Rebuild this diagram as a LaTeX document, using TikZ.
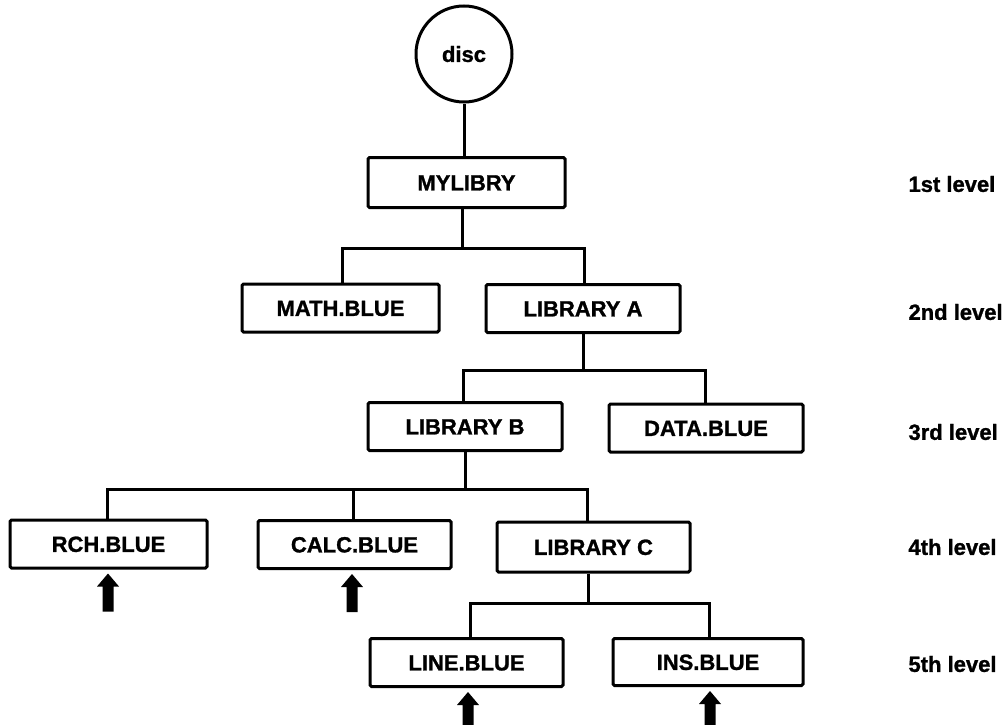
\documentclass[tikz,border=0pt]{standalone}
\usepackage{fontspec}
\setmainfont{Liberation Sans}[BoldFeatures={FakeBold=1.2}]
\begin{document}
\begin{tikzpicture}[x=1pt,y=-1pt,
  line width=3pt,
  every node/.style={font=\fontsize{22}{24}\bfseries\selectfont},
  libbox/.style={draw,rounded corners=1.5pt,inner sep=0pt,minimum height=48,text height=15.8pt,text depth=0pt},
  lvl/.style={anchor=west,inner sep=0pt},
  pics/uparr/.style={code={
    \fill (0,0) -- (11,13) -- (5.5,13) -- (5.5,38) -- (-5.5,38) -- (-5.5,13) -- (-11,13) -- cycle;}}
]
\useasboundingbox (0,0) rectangle (1006,725);

% root of the tree
\node[draw,circle,minimum size=96,inner sep=0pt,text height=15.8pt,text depth=0pt] (disc) at (464,54) {disc};

% library boxes, level by level
\node[libbox,minimum width=197,minimum height=50] (mylibry) at (466.5,182.5) {MYLIBRY};
\node[libbox,minimum width=197] (math) at (340.5,308) {MATH.BLUE};
\node[libbox,minimum width=194] (liba) at (583,308.5) {LIBRARY A};
\node[libbox,minimum width=194] (libb) at (465,426.5) {LIBRARY B};
\node[libbox,minimum width=194] (data) at (706,428) {DATA.BLUE};
\node[libbox,minimum width=197] (rch) at (108.5,544) {RCH.BLUE};
\node[libbox,minimum width=193] (calc) at (354.5,544.5) {CALC.BLUE};
\node[libbox,minimum width=193,minimum height=50] (libc) at (593.5,547) {LIBRARY C};
\node[libbox,minimum width=193] (line) at (466.5,662.5) {LINE.BLUE};
\node[libbox,minimum width=190,minimum height=47] (ins) at (708,662) {INS.BLUE};

% level captions
\node[lvl] (l1) at (907,184) {1st level};
\node[lvl] (l2) at (907,312) {2nd level};
\node[lvl] (l3) at (907,432) {3rd level};
\node[lvl] (l4) at (907,547) {4th level};
\node[lvl] (l5) at (907,664) {5th level};

% connectors
\draw (disc.south) -- (disc.south |- mylibry.north);

\draw ([xshift=-4.5]mylibry.south) -- ++(0,39) coordinate (j1);
\draw ([xshift=1.5]math.north) |- (j1) -| ([xshift=1]liba.north);

\draw (liba.south) -- ++(0,36.5) coordinate (j2);
\draw ([xshift=-2]libb.north) |- (j2) -| ([xshift=-1]data.north);

\draw (libb.south) -- ++(0,37.5) coordinate (j3);
\draw ([xshift=-1.5]rch.north) |- (j3) -| ([xshift=-6.5]libc.north);
\draw ([xshift=-1.5]calc.north) -- ([xshift=-1.5]calc.north |- j3);

\draw ([xshift=-5.5]libc.south) -- ++(0,30) coordinate (j4);
\draw ([xshift=3.5]line.north) |- (j4) -| ([xshift=1]ins.north);

% pointer arrows under the files
\pic at ([shift={(-0.5,4)}]rch.south) {uparr};
\pic at ([shift={(-2.5,4)}]calc.south) {uparr};
\pic at ([shift={(1.5,4)}]line.south) {uparr};
\pic at ([shift={(2,4)}]ins.south) {uparr};
\end{tikzpicture}
\end{document}
